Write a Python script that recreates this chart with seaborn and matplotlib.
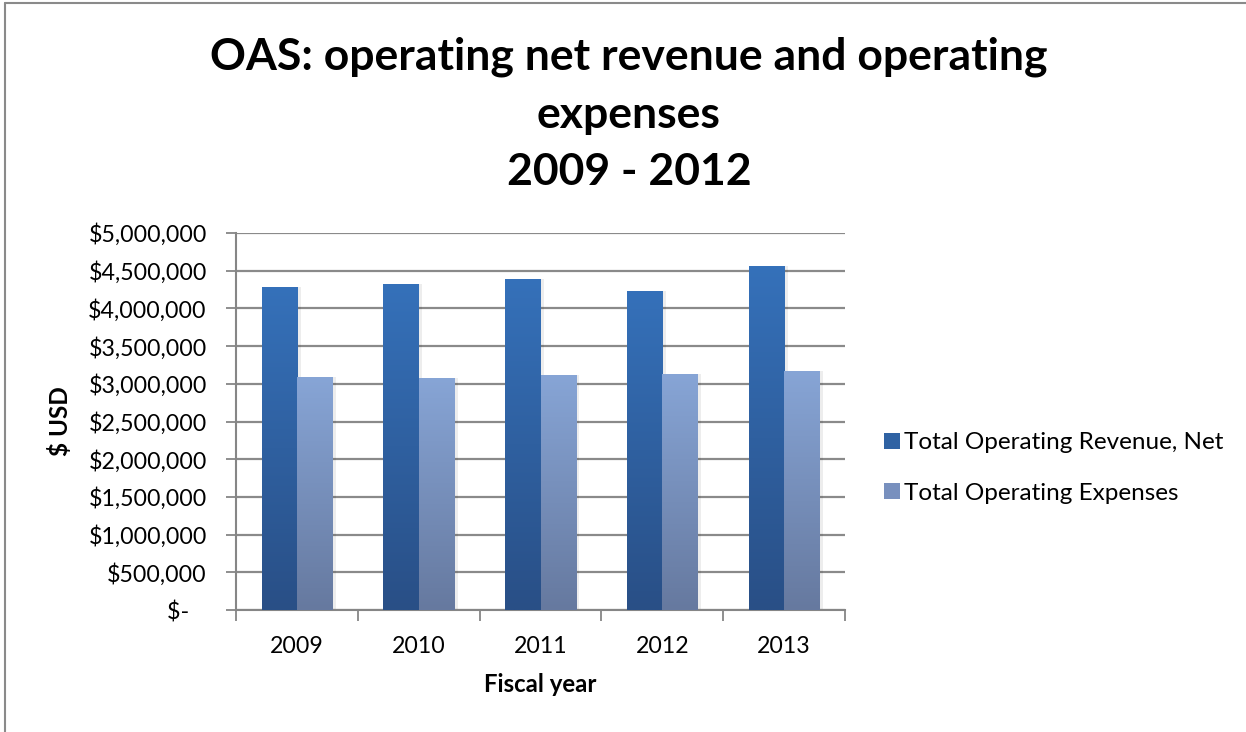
import numpy as np
import pandas as pd
import matplotlib
matplotlib.use("Agg")
import matplotlib.pyplot as plt
import seaborn as sns
from matplotlib.patches import Patch
from matplotlib.lines import Line2D
from matplotlib.colors import LinearSegmentedColormap
from matplotlib.ticker import FuncFormatter, FixedLocator

# Fiscal-year figures (USD)
years = ["2009", "2010", "2011", "2012", "2013"]
revenue = [4284000, 4324000, 4390000, 4231000, 4562000]
expenses = [3090000, 3077000, 3117000, 3130000, 3170000]
series_names = ["Total Operating Revenue, Net", "Total Operating Expenses"]

df = pd.DataFrame({
    "year": years * 2,
    "value": revenue + expenses,
    "series": [series_names[0]] * len(years) + [series_names[1]] * len(years),
})

sns.set_theme(style="white")
plt.rcParams["font.family"] = ["Lato", "DejaVu Sans"]
plt.rcParams["text.color"] = "#000000"
plt.rcParams["axes.labelcolor"] = "#000000"

# gradient colours per series: (top, bottom)
grad = {
    series_names[0]: ("#3571BA", "#294F86"),
    series_names[1]: ("#87A5D6", "#66799F"),
}
mid = {series_names[0]: "#2F62A3", series_names[1]: "#7890BE"}

W, H = 1246, 732
fig = plt.figure(figsize=(W / 100, H / 100), dpi=100)
ax = fig.add_axes([236 / W, 1 - 610 / H, (845 - 236) / W, (610 - 233) / H])

sns.barplot(data=df, x="year", y="value", hue="series", hue_order=series_names,
            palette=[mid[s] for s in series_names], width=0.58, ax=ax,
            saturation=1, legend=False, edgecolor="none", zorder=3)

# paint each bar with a vertical gradient
bars = [p for p in ax.patches]
n = len(years)
for i, p in enumerate(bars):
    s = series_names[i // n]
    top, bot = grad[s]
    cmap = LinearSegmentedColormap.from_list("g", [bot, top])
    x0, y0 = p.get_x(), p.get_y()
    w, h = p.get_width(), p.get_height()
    # soft shadow on the right side
    sh = plt.Rectangle((x0 + w, y0), 0.03, h, transform=ax.transData,
                       facecolor="#000000", alpha=0.07, edgecolor="none", zorder=2)
    ax.add_patch(sh)
    img = ax.imshow(np.linspace(0, 1, 256).reshape(-1, 1)[::-1], cmap=cmap,
                    extent=[x0, x0 + w, y0, y0 + h], aspect="auto", zorder=3,
                    interpolation="bilinear")
    img.set_clip_path(p)
    p.set_facecolor("none")
ax.set_xlim(-0.5, len(years) - 0.5)
ax.set_ylim(0, 5000000)

# axes styling
for side in ["top", "right"]:
    ax.spines[side].set_visible(False)
for side in ["left", "bottom"]:
    ax.spines[side].set_color("#868686")
    ax.spines[side].set_linewidth(1.5)

ax.yaxis.grid(True, color="#8A8A8A", linewidth=1.6, zorder=1)
ax.set_axisbelow(True)

def money(v, pos):
    if v == 0:
        return "$-   "
    return "${:,.0f}".format(v)

ax.yaxis.set_major_locator(FixedLocator(np.arange(0, 5000001, 500000)))
ax.yaxis.set_major_formatter(FuncFormatter(money))
ax.tick_params(axis="y", which="major", left=True, length=7, width=1.3,
               color="#868686", labelsize=16.7, pad=14, labelcolor="#000000")

ax.set_xticks(range(len(years)))
ax.set_xticklabels(years)
ax.xaxis.set_minor_locator(FixedLocator(np.arange(-0.5, len(years), 1.0)))
ax.tick_params(axis="x", which="major", bottom=False, labelsize=16.7, pad=13,
               labelcolor="#000000")
ax.tick_params(axis="x", which="minor", bottom=True, length=8, width=1.3,
               color="#868686")

ax.set_xlabel("Fiscal year", fontsize=17.3, fontweight="bold", labelpad=11)
ax.set_ylabel("$ USD", fontsize=17.5, fontweight="bold", labelpad=12)

# title
for txt, ypx in [("OAS: operating net revenue and operating", 57),
                 ("expenses", 115), ("2009 - 2012", 172)]:
    fig.text(629 / W, 1 - ypx / H, txt, ha="center", va="center",
             fontsize=32, fontweight="bold", color="#000000")

# legend
handles = [Patch(facecolor=mid[s], edgecolor="none") for s in series_names]
fig.legend(handles, series_names, loc="center left",
           bbox_to_anchor=(874 / W, 1 - 468 / H), frameon=False,
           fontsize=17.5, handlelength=0.65, handleheight=0.65,
           handletextpad=0.2, labelspacing=1.2, borderaxespad=0)

# chart border
fig.add_artist(Line2D([4.5 / W, 4.5 / W], [0, 1 - 3 / H], transform=fig.transFigure,
                      color="#8A8A8A", linewidth=1.5))
fig.add_artist(Line2D([4.5 / W, 1], [1 - 3 / H, 1 - 3 / H], transform=fig.transFigure,
                      color="#8A8A8A", linewidth=1.5))

fig.savefig("out.png", dpi=100, facecolor="white")
